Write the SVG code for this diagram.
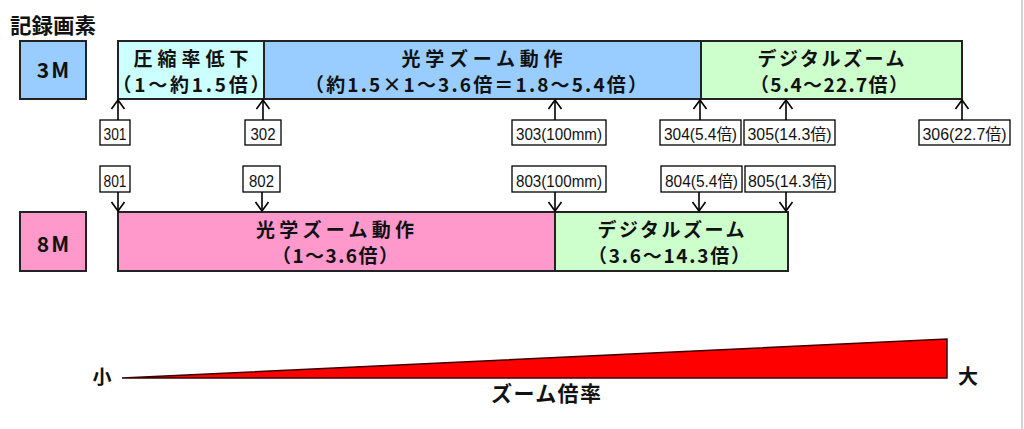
<svg xmlns="http://www.w3.org/2000/svg" width="1024" height="429" viewBox="0 0 1024 429">
<defs>
<style>
.box{stroke:#222;stroke-width:2}
.lbl{fill:#fff;stroke:#000;stroke-width:1.3}
.t{font-family:"Noto Sans CJK JP","Noto Sans",sans-serif;font-weight:bold;font-size:19px;fill:#111;text-anchor:middle}
.n{font-family:"Liberation Sans","Noto Sans CJK JP",sans-serif;font-size:16px;fill:#111;text-anchor:middle}
.c{stroke:#000;stroke-width:1.6;fill:none}
</style>
<marker id="ah" viewBox="0 0 11 15" refX="10" refY="7.5" markerWidth="11" markerHeight="15" markerUnits="userSpaceOnUse" orient="auto">
<path d="M1,1 L10,7.5 L1,14" fill="none" stroke="#000" stroke-width="1.6"/>
</marker>
</defs>
<rect width="1024" height="429" fill="#fff"/>
<line x1="1022" y1="0" x2="1022" y2="429" stroke="#aaa" stroke-width="1"/>
<text x="53" y="33" class="t" style="font-size:21px" textLength="86" lengthAdjust="spacingAndGlyphs">記録画素</text>

<g id="res3m"><rect class="box" x="20" y="41" width="66" height="58" fill="#99CCFF"/><text class="t" x="54" y="78" style="font-size:21px" letter-spacing="2">3M</text></g>
<g id="res8m"><rect class="box" x="20" y="212" width="66" height="59" fill="#FF99CC"/><text class="t" x="54" y="252" style="font-size:21px" letter-spacing="2">8M</text></g>

<g id="comp"><rect class="box" x="118" y="41" width="146" height="58" fill="#CCFFFF"/>
<text class="t" x="191" y="66" textLength="115" lengthAdjust="spacing">圧縮率低下</text>
<text class="t" x="191" y="92" textLength="157" lengthAdjust="spacing">（1〜約1.5倍）</text></g>
<g id="opt3"><rect class="box" x="264" y="41" width="437" height="58" fill="#99CCFF"/>
<text class="t" x="482" y="66" textLength="161" lengthAdjust="spacing">光学ズーム動作</text>
<text class="t" x="476" y="92" textLength="342" lengthAdjust="spacing">（約1.5×1〜3.6倍＝1.8〜5.4倍）</text></g>
<g id="dig3"><rect class="box" x="701" y="41" width="261" height="58" fill="#CCFFCC"/>
<text class="t" x="831" y="66" textLength="147" lengthAdjust="spacing">デジタルズーム</text>
<text class="t" x="829" y="92" textLength="158" lengthAdjust="spacing">（5.4〜22.7倍）</text></g>

<g id="opt8"><rect class="box" x="118" y="212" width="437" height="59" fill="#FF99CC"/>
<text class="t" x="335" y="237" textLength="158" lengthAdjust="spacing">光学ズーム動作</text>
<text class="t" x="335" y="263" textLength="126" lengthAdjust="spacing">（1〜3.6倍）</text></g>
<g id="dig8"><rect class="box" x="555" y="212" width="233" height="59" fill="#CCFFCC"/>
<text class="t" x="671" y="237" textLength="147" lengthAdjust="spacing">デジタルズーム</text>
<text class="t" x="669" y="263" textLength="162" lengthAdjust="spacing">（3.6〜14.3倍）</text></g>

<g id="l301"><rect class="lbl" x="100" y="120" width="30" height="25"/><text class="n" x="115" y="140" textLength="23" lengthAdjust="spacingAndGlyphs">301</text></g>
<g id="l302"><rect class="lbl" x="245" y="120" width="36" height="25"/><text class="n" x="263" y="140" textLength="25" lengthAdjust="spacingAndGlyphs">302</text></g>
<g id="l303"><rect class="lbl" x="512" y="120" width="94" height="25"/><text class="n" x="559" y="140" textLength="86" lengthAdjust="spacingAndGlyphs">303(100mm)</text></g>
<g id="l304"><rect class="lbl" x="660" y="120" width="81" height="25"/><text class="n" x="700.5" y="140" textLength="73" lengthAdjust="spacingAndGlyphs">304(5.4倍)</text></g>
<g id="l305"><rect class="lbl" x="744" y="120" width="91" height="25"/><text class="n" x="789.5" y="140" textLength="84" lengthAdjust="spacingAndGlyphs">305(14.3倍)</text></g>
<g id="l306"><rect class="lbl" x="919" y="120" width="91" height="25"/><text class="n" x="964.5" y="140" textLength="84" lengthAdjust="spacingAndGlyphs">306(22.7倍)</text></g>

<g id="l801"><rect class="lbl" x="100" y="166" width="30" height="26"/><text class="n" x="115" y="187" textLength="23" lengthAdjust="spacingAndGlyphs">801</text></g>
<g id="l802"><rect class="lbl" x="243" y="166" width="37" height="26"/><text class="n" x="261.5" y="187" textLength="25" lengthAdjust="spacingAndGlyphs">802</text></g>
<g id="l803"><rect class="lbl" x="512" y="166" width="94" height="26"/><text class="n" x="559" y="187" textLength="86" lengthAdjust="spacingAndGlyphs">803(100mm)</text></g>
<g id="l804"><rect class="lbl" x="661" y="166" width="81" height="26"/><text class="n" x="701.5" y="187" textLength="73" lengthAdjust="spacingAndGlyphs">804(5.4倍)</text></g>
<g id="l805"><rect class="lbl" x="745" y="166" width="90" height="26"/><text class="n" x="790" y="187" textLength="84" lengthAdjust="spacingAndGlyphs">805(14.3倍)</text></g>

<g id="connectors">
<path class="c" marker-end="url(#ah)" d="M118,120 V100"/>
<path class="c" marker-end="url(#ah)" d="M263,120 V100"/>
<path class="c" marker-end="url(#ah)" d="M555,120 V100"/>
<path class="c" marker-end="url(#ah)" d="M700,120 V100"/>
<path class="c" marker-end="url(#ah)" d="M786,120 V100"/>
<path class="c" marker-end="url(#ah)" d="M962,120 V100"/>
<path class="c" marker-end="url(#ah)" d="M118,192 V211"/>
<path class="c" marker-end="url(#ah)" d="M262,192 V211"/>
<path class="c" marker-end="url(#ah)" d="M555,192 V211"/>
<path class="c" marker-end="url(#ah)" d="M699,192 V211"/>
<path class="c" marker-end="url(#ah)" d="M786,192 V211"/>
</g>

<g id="scale">
<polygon points="122,378 947,339 947,378" fill="#FF0000" stroke="#3a0000" stroke-width="1.5" stroke-linejoin="miter"/>
<text class="t" x="102" y="384" style="font-size:19px">小</text>
<text class="t" x="968" y="384" style="font-size:20px">大</text>
<text class="t" x="546" y="401" style="font-size:21px" textLength="110" lengthAdjust="spacing">ズーム倍率</text>
</g>
</svg>
